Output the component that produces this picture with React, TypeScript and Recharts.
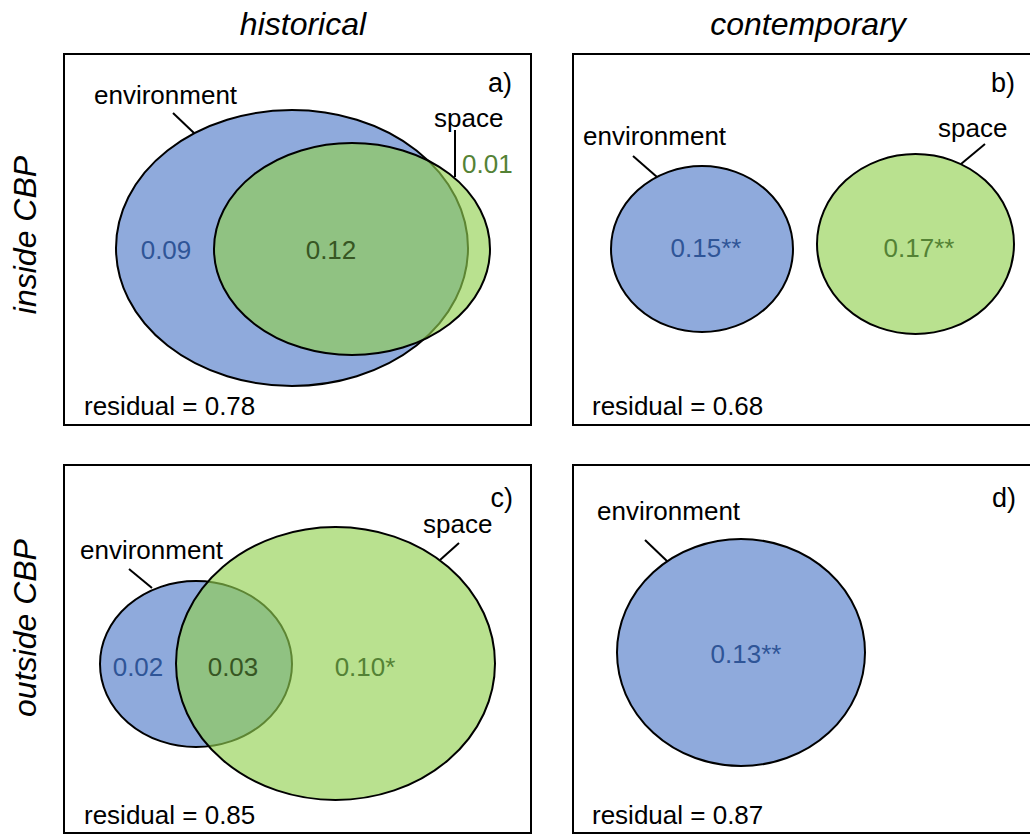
import React from 'react';
import { ScatterChart, Scatter, XAxis, YAxis, ReferenceArea, ReferenceLine } from 'recharts';

const FIG_W = 1030;
const FIG_H = 835;
const FONT = '"Liberation Sans", Arial, Helvetica, sans-serif';

const BLUE_FILL = '#8FAADC';
const GREEN_FILL = '#92D050';
const GREEN_ALPHA = 0.64;
const BLUE_TEXT = '#2F5597';
const GREEN_TEXT = '#548235';
const SHARED_TEXT = '#375623';

// Variation partitioning: fractions explained by environment, space and both
const panelIds = ['a', 'b', 'c', 'd'];
const columnTitles = ['historical', 'contemporary'];
const rowTitles = ['inside CBP', 'outside CBP'];
const residuals = [0.78, 0.68, 0.85, 0.87];
const envOnly = [0.09, 0.15, 0.02, 0.13];
const envStars = ['', '**', '', '**'];
const sharedFraction: (number | null)[] = [0.12, null, 0.03, null];
const spaceOnly: (number | null)[] = [0.01, 0.17, 0.1, null];
const spaceStars = ['', '**', '*', ''];

// Layout in figure units (x to the right, y downwards)
const panelFrames = [
  { x1: 64, x2: 531, y1: 54, y2: 425 },
  { x1: 573, x2: 1040, y1: 54, y2: 425 },
  { x1: 64, x2: 531, y1: 465, y2: 833 },
  { x1: 573, x2: 1040, y1: 465, y2: 833 },
];
const envEllipses = [
  { x: 292, y: 248, rx: 176, ry: 138 },
  { x: 702, y: 249, rx: 91, ry: 83 },
  { x: 196, y: 664, rx: 96, ry: 83 },
  { x: 741, y: 652.5, rx: 124, ry: 113.5 },
];
const spaceEllipses = [
  { x: 352, y: 249, rx: 138, ry: 106 },
  { x: 915.5, y: 244, rx: 98.5, ry: 90 },
  { x: 335.5, y: 663.5, rx: 159.5, ry: 136.5 },
  null,
];
const envNamePos = [
  { x: 94, y: 104 },
  { x: 583, y: 145 },
  { x: 80, y: 559 },
  { x: 597, y: 520 },
];
const envLeaders = [
  [173, 113, 194, 133],
  [633, 156, 657, 177],
  [129, 569, 152, 588],
  [645, 540, 668, 562],
];
const spaceNamePos = [{ x: 434, y: 127 }, { x: 938, y: 137 }, { x: 423, y: 533 }, null];
const spaceLeaders = [[455, 130, 455, 177], [985, 144, 961, 164], [459, 543, 440, 560], null];
const envValuePos = [
  { x: 166, y: 259, anchor: 'middle' },
  { x: 706, y: 257, anchor: 'middle' },
  { x: 138, y: 676, anchor: 'middle' },
  { x: 746, y: 663, anchor: 'middle' },
];
const sharedValuePos = [{ x: 331, y: 259, anchor: 'middle' }, null, { x: 233, y: 676, anchor: 'middle' }, null];
const spaceValuePos = [
  { x: 462, y: 173, anchor: 'start' },
  { x: 919, y: 257, anchor: 'middle' },
  { x: 365, y: 676, anchor: 'middle' },
  null,
];
const residualPos = [
  { x: 84, y: 415 },
  { x: 592, y: 415 },
  { x: 84, y: 824 },
  { x: 592, y: 824 },
];
const panelTagPos = [
  { x: 512, y: 92 },
  { x: 1015, y: 92 },
  { x: 513, y: 507 },
  { x: 1016, y: 507 },
];
const columnTitlePos = [
  { x: 303, y: 35 },
  { x: 808, y: 35 },
];
const rowTitlePos = [
  { x: 36, y: 235 },
  { x: 36, y: 628 },
];

// Plot area spans the whole figure, so one domain unit maps to PX_PER_* pixels
const X_DOMAIN: [number, number] = [0, FIG_W];
const Y_DOMAIN: [number, number] = [0, FIG_H];
const PX_PER_X = FIG_W / (X_DOMAIN[1] - X_DOMAIN[0]);
const PX_PER_Y = FIG_H / (Y_DOMAIN[1] - Y_DOMAIN[0]);

type TextRow = {
  x: number;
  y: number;
  text: string;
  color: string;
  size: number;
  anchor: string;
  italic?: boolean;
  rotate?: number;
};

const fmt = (v: number) => v.toFixed(2);

const textRows: TextRow[] = [];
columnTitles.forEach((t, i) =>
  textRows.push({ ...columnTitlePos[i], text: t, color: '#000', size: 32, anchor: 'middle', italic: true })
);
rowTitles.forEach((t, i) =>
  textRows.push({ ...rowTitlePos[i], text: t, color: '#000', size: 32, anchor: 'middle', italic: true, rotate: -90 })
);
panelIds.forEach((id, i) => {
  textRows.push({ ...panelTagPos[i], text: `${id})`, color: '#000', size: 27, anchor: 'end' });
  textRows.push({ ...residualPos[i], text: `residual = ${fmt(residuals[i])}`, color: '#000', size: 26, anchor: 'start' });
  textRows.push({ ...envNamePos[i], text: 'environment', color: '#000', size: 26, anchor: 'start' });
  const sp = spaceNamePos[i];
  if (sp) textRows.push({ ...sp, text: 'space', color: '#000', size: 26, anchor: 'start' });
  const ev = envValuePos[i];
  textRows.push({ x: ev.x, y: ev.y, text: fmt(envOnly[i]) + envStars[i], color: BLUE_TEXT, size: 26, anchor: ev.anchor });
  const sh = sharedValuePos[i];
  const shv = sharedFraction[i];
  if (sh && shv !== null) textRows.push({ x: sh.x, y: sh.y, text: fmt(shv), color: SHARED_TEXT, size: 26, anchor: sh.anchor });
  const sv = spaceValuePos[i];
  const svv = spaceOnly[i];
  if (sv && svv !== null)
    textRows.push({ x: sv.x, y: sv.y, text: fmt(svv) + spaceStars[i], color: GREEN_TEXT, size: 26, anchor: sv.anchor });
});

const envData = envEllipses.map((e) => ({ ...e }));
const spaceData = spaceEllipses.filter((e) => e !== null).map((e) => ({ ...(e as any) }));

const EnvEllipse = (props: any) => {
  const { cx, cy, payload } = props;
  return (
    <ellipse
      cx={cx}
      cy={cy}
      rx={payload.rx * PX_PER_X}
      ry={payload.ry * PX_PER_Y}
      fill={BLUE_FILL}
      stroke="#000"
      strokeWidth={2}
    />
  );
};

const SpaceEllipse = (props: any) => {
  const { cx, cy, payload } = props;
  return (
    <ellipse
      cx={cx}
      cy={cy}
      rx={payload.rx * PX_PER_X}
      ry={payload.ry * PX_PER_Y}
      fill={GREEN_FILL}
      fillOpacity={GREEN_ALPHA}
      stroke="#000"
      strokeWidth={2}
    />
  );
};

const LabelText = (props: any) => {
  const { cx, cy, payload } = props;
  const p = payload as TextRow;
  return (
    <text
      x={cx}
      y={cy}
      textAnchor={p.anchor as any}
      fontSize={p.size}
      fontStyle={p.italic ? 'italic' : 'normal'}
      fontFamily={FONT}
      fill={p.color}
      transform={p.rotate ? `rotate(${p.rotate} ${cx} ${cy})` : undefined}
    >
      {p.text}
    </text>
  );
};

const leaderSegments = [...envLeaders, ...spaceLeaders].filter((s) => s !== null) as number[][];

export default function App() {
  return (
    <div style={{ position: 'absolute', left: 0, top: 0, width: FIG_W, height: FIG_H, background: '#fff' }}>
      <ScatterChart width={FIG_W} height={FIG_H} margin={{ top: 0, right: 0, bottom: 0, left: 0 }}>
        <XAxis type="number" dataKey="x" domain={X_DOMAIN} allowDataOverflow hide />
        <YAxis type="number" dataKey="y" domain={Y_DOMAIN} allowDataOverflow reversed hide />
        {panelFrames.map((f, i) => (
          <ReferenceArea
            key={`frame-${i}`}
            x1={f.x1}
            x2={f.x2}
            y1={f.y1}
            y2={f.y2}
            fill="none"
            fillOpacity={0}
            stroke="#000"
            strokeWidth={2}
            ifOverflow="hidden"
          />
        ))}
        <Scatter name="environment" data={envData} shape={EnvEllipse} isAnimationActive={false} />
        <Scatter name="space" data={spaceData} shape={SpaceEllipse} isAnimationActive={false} />
        {leaderSegments.map((s, i) => (
          <ReferenceLine
            key={`leader-${i}`}
            segment={[
              { x: s[0], y: s[1] },
              { x: s[2], y: s[3] },
            ]}
            stroke="#000"
            strokeWidth={2}
          />
        ))}
        <Scatter name="labels" data={textRows} shape={LabelText} isAnimationActive={false} />
      </ScatterChart>
    </div>
  );
}
